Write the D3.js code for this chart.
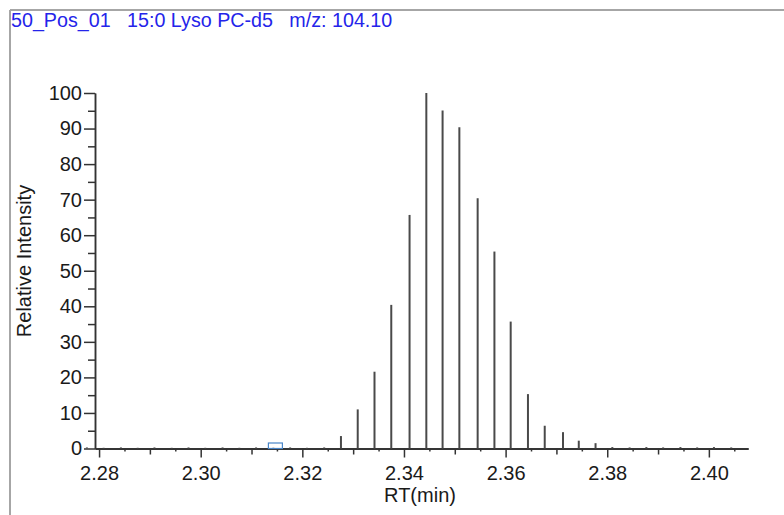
<!DOCTYPE html>
<html>
<head>
<meta charset="utf-8">
<script src="https://cdn.jsdelivr.net/npm/d3@7"></script>
<style>
  html, body { margin: 0; padding: 0; background: #fff; }
  svg { display: block; font-family: "Liberation Sans", Arial, sans-serif; }
</style>
</head>
<body>
<div id="chart"></div>
<script>
const W = 784, H = 515;
// title + axis texts
const titleText = "50_Pos_01   15:0 Lyso PC-d5   m/z: 104.10";
const xLabel = "RT(min)", yLabel = "Relative Intensity";
// retention times (min) of each scan and relative intensity
const rtValues = [2.2776, 2.2809, 2.2843, 2.2876, 2.2909, 2.2943, 2.2976, 2.3009, 2.3043, 2.3076,
  2.3109, 2.3143, 2.3176, 2.3209, 2.3243, 2.3276, 2.3309, 2.3342, 2.3375, 2.3411,
  2.3444, 2.3476, 2.3509, 2.3545, 2.3578, 2.3610, 2.3644, 2.3677, 2.3713, 2.3744,
  2.3777, 2.3810, 2.3844, 2.3877, 2.3910, 2.3944, 2.3977, 2.4010, 2.4044];
const intensity = [0.3, 0.2, 0.3, 0.2, 0.3, 0.2, 0.3, 0.2, 0.3, 0.2,
  0.3, 0.2, 0.3, 0.2, 0.3, 3.5, 11.0, 21.6, 40.4, 65.7,
  100, 95.1, 90.4, 70.4, 55.4, 35.7, 15.3, 6.4, 4.6, 2.2,
  1.5, 0.4, 0.3, 0.4, 0.3, 0.4, 0.3, 0.4, 0.3];
const markerRT = 2.3147; // blue box marker on the baseline
const xMajor = [2.28, 2.30, 2.32, 2.34, 2.36, 2.38, 2.40];
const xMid = [2.29, 2.31, 2.33, 2.35, 2.37, 2.39];
const xMinor = [2.285, 2.295, 2.305, 2.315, 2.325, 2.335, 2.345, 2.355, 2.365, 2.375, 2.385, 2.395, 2.405];
const yMajor = [0, 10, 20, 30, 40, 50, 60, 70, 80, 90, 100];
const yMinor = [5, 15, 25, 35, 45, 55, 65, 75, 85, 95];

const svg = d3.select("#chart").append("svg").attr("width", W).attr("height", H);

// frame (top + left edges only visible)
svg.append("rect").attr("x", 0).attr("y", 0).attr("width", W).attr("height", H).attr("fill", "#fff");
svg.append("line").attr("x1", 10).attr("x2", W).attr("y1", 10).attr("y2", 10)
  .attr("stroke", "#a6a6a6").attr("stroke-width", 2);
svg.append("line").attr("x1", 10).attr("x2", 10).attr("y1", 10).attr("y2", H)
  .attr("stroke", "#a6a6a6").attr("stroke-width", 2);

svg.append("text").attr("x", 11).attr("y", 27)
  .attr("fill", "#2424ea").style("font-size", "19.7px").style("white-space", "pre")
  .text(titleText);

const x = d3.scaleLinear().domain([2.2792, 2.4077]).range([95, 748]);
const y = d3.scaleLinear().domain([0, 100]).range([448.5, 93]);

function styleAxis(g) {
  g.select(".domain").attr("stroke", "#333").attr("stroke-width", 1.5);
  g.selectAll(".tick line").attr("stroke", "#333").attr("stroke-width", 1.5);
  g.selectAll(".tick text").attr("fill", "#1a1a1a").style("font-size", "20px").attr("font-family", null);
}

// x axis minor ticks
svg.append("g").attr("transform", "translate(0," + y(0) + ")")
  .call(d3.axisBottom(x).tickValues(xMinor).tickSize(3).tickSizeOuter(0).tickFormat(""))
  .call(styleAxis);
svg.append("g").attr("transform", "translate(0," + y(0) + ")")
  .call(d3.axisBottom(x).tickValues(xMid).tickSize(6).tickSizeOuter(0).tickFormat(""))
  .call(styleAxis);
svg.append("g").attr("transform", "translate(0," + y(0) + ")")
  .call(d3.axisBottom(x).tickValues(xMajor).tickSize(9).tickSizeOuter(0).tickPadding(8).tickFormat(d3.format(".2f")))
  .call(styleAxis);

// y axis
svg.append("g").attr("transform", "translate(" + x.range()[0] + ",0)")
  .call(d3.axisLeft(y).tickValues(yMinor).tickSize(7).tickSizeOuter(0).tickFormat(""))
  .call(styleAxis);
svg.append("g").attr("transform", "translate(" + x.range()[0] + ",0)")
  .call(d3.axisLeft(y).tickValues(yMajor).tickSize(11).tickSizeOuter(0).tickPadding(2))
  .call(styleAxis);

// axis titles
svg.append("text").attr("x", 420).attr("y", 502).attr("text-anchor", "middle")
  .attr("fill", "#1a1a1a").style("font-size", "20px").text(xLabel);
svg.append("text").attr("transform", "translate(31,261) rotate(-90)").attr("text-anchor", "middle")
  .attr("fill", "#1a1a1a").style("font-size", "20px").text(yLabel);

// stick spectrum
svg.append("g").selectAll("line").data(rtValues).join("line")
  .attr("x1", d => x(d)).attr("x2", d => x(d))
  .attr("y1", y(0)).attr("y2", (d, i) => y(intensity[i]))
  .attr("stroke", "#4a4a4a").attr("stroke-width", 2);

// marker box
svg.append("rect")
  .attr("x", x(markerRT) - 7).attr("y", y(0) - 5.5)
  .attr("width", 14).attr("height", 5.5)
  .attr("fill", "none").attr("stroke", "#4a86c8").attr("stroke-width", 1.2);
</script>
</body>
</html>
